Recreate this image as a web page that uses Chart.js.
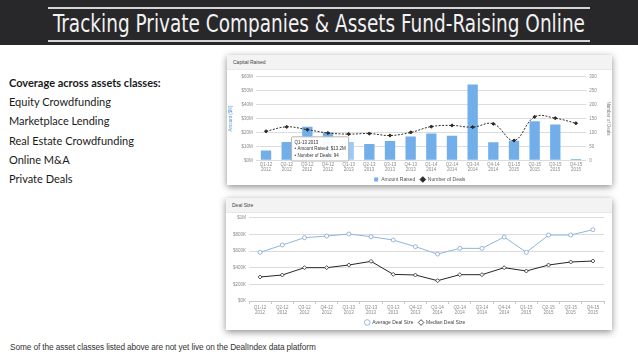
<!DOCTYPE html>
<html><head><meta charset="utf-8">
<script src="https://cdn.jsdelivr.net/npm/chart.js@4.4.0/dist/chart.umd.min.js"></script>
<style>
html,body{margin:0;padding:0;}
body{width:638px;height:359px;position:relative;overflow:hidden;background:#fff;font-family:Lato,"Noto Sans",sans-serif;}
#hdr{position:absolute;left:0;top:0;width:638px;height:45px;background:#28282a;}
.rule{position:absolute;left:48px;width:542px;height:2px;background:#d6d6d6;}
#title{position:absolute;left:53px;top:7px;white-space:nowrap;color:#f2f2f2;font-family:"DejaVu Sans Condensed","Liberation Sans Narrow",sans-serif;font-size:25px;line-height:34px;transform-origin:0 0;}
#list{position:absolute;left:9px;top:73px;color:#1a1a1a;font-size:11px;}
#list div{height:19.2px;line-height:19.2px;white-space:nowrap;}
#list .b{font-weight:bold;}
#foot{position:absolute;left:10px;top:343px;font-family:"Liberation Sans",Arial,sans-serif;font-size:7.4px;color:#333;white-space:nowrap;letter-spacing:-0.1px;}
.card{position:absolute;background:#fff;box-shadow:0 2px 7px rgba(0,0,0,0.45);}
.card .h{position:absolute;left:0;top:0;right:0;height:14px;background:#f3f3f3;border-bottom:1px solid #e8e8e8;font-size:5px;line-height:14px;padding-left:6px;color:#444;font-family:"Liberation Sans",sans-serif;}
.card canvas{position:absolute;left:0;}
</style></head>
<body>
<div id="hdr"><div class="rule" style="top:7px"></div><div class="rule" style="top:40px"></div><span id="title">Tracking Private Companies &amp; Assets Fund-Raising Online</span></div>
<div id="list">
<div class="b">Coverage across assets classes:</div>
<div>Equity Crowdfunding</div>
<div>Marketplace Lending</div>
<div>Real Estate Crowdfunding</div>
<div>Online M&amp;A</div>
<div>Private Deals</div>
</div>
<div id="foot">Some of the asset classes listed above are not yet live on the DealIndex data platform</div>

<div class="card" style="left:227px;top:55px;width:385px;height:130px;">
  <div class="h">Capital Raised</div>
  <canvas id="c1" width="385" height="116" style="top:14px;width:385px;height:116px"></canvas>
</div>
<div class="card" style="left:226px;top:198px;width:386px;height:132px;">
  <div class="h">Deal Size</div>
  <canvas id="c2" width="386" height="118" style="top:14px;width:386px;height:118px"></canvas>
</div>

<script>
// ---- data ----
const periodCodes = ['Q1-12','Q2-12','Q3-12','Q4-12','Q1-13','Q2-13','Q3-13','Q4-13','Q1-14','Q2-14','Q3-14','Q4-14','Q1-15','Q2-15','Q3-15','Q4-15'];
const periodYears = ['2012','2012','2012','2012','2013','2013','2013','2013','2014','2014','2014','2014','2015','2015','2015','2015'];
const amountRaised = [7, 13.2, 24, 20, 13.2, 11.7, 13.9, 17, 19.2, 17.7, 54.4, 12.9, 14.1, 28, 25.7, 1];   // $M
const numberOfDeals = [104, 120, 110, 98, 94, 96, 89, 100, 121, 125, 119, 131, 71, 156, 151, 133];
const averageDealSize = [584, 672, 760, 780, 804, 772, 732, 652, 564, 632, 632, 768, 584, 792, 792, 856]; // $K
const medianDealSize = [288, 312, 400, 400, 432, 476, 320, 312, 244, 316, 316, 400, 360, 432, 468, 480];  // $K
const amountTicks = [0, 10, 20, 30, 40, 50, 60];
const dealTicks = [0, 50, 100, 150, 200, 250, 300];
const sizeTicks = [0, 200, 400, 600, 800, 1000];
const tooltipIndex = 4;

// fit title and footnote widths
const t = document.getElementById('title');
t.style.transform = 'scaleX(' + (532 / t.getBoundingClientRect().width) + ')';
const f = document.getElementById('foot');
f.style.fontSize = (7.4 * 305 / f.getBoundingClientRect().width) + 'px';

const labels = periodCodes.map((c, i) => [c, periodYears[i]]);
const tickFont = {size: 4.5, family: 'Liberation Sans', lineHeight: 1.15};
const tickColor = '#8a8a8a';

// fixes the legend box height so the plot area lands where the reference has it
const legendHeight = {
  id: 'legendHeight',
  beforeUpdate(chart, args, opts) {
    const lg = chart.legend;
    if (lg && !lg._hWrapped) {
      const fit = lg.fit.bind(lg);
      lg.fit = function () { fit(); this.height = opts.h; this.bottom = this.top + opts.h; };
      lg._hWrapped = true;
    }
  }
};

// tooltip anchored just below the top of the hovered bar
Chart.Tooltip.positioners.barTop = function (elements) {
  const bar = elements.find(e => e.element instanceof Chart.BarElement) || elements[0];
  if (!bar) return false;
  return {x: bar.element.x, y: bar.element.y + 7};
};

const c1 = new Chart(document.getElementById('c1'), {
  data: {
    labels: labels,
    datasets: [
      {type: 'line', label: 'Number of Deals', data: numberOfDeals, yAxisID: 'y1', borderColor: '#2b2b2b', borderWidth: 1,
       borderDash: [2, 1.5], tension: 0.4, pointStyle: 'rectRot', pointRadius: 1.6, pointHoverRadius: 1.6,
       pointHoverBorderWidth: 1, pointBackgroundColor: '#2b2b2b', pointBorderColor: '#2b2b2b', order: 1},
      {type: 'bar', label: 'Amount Raised', data: amountRaised, yAxisID: 'y', backgroundColor: '#72aeea',
       hoverBackgroundColor: '#9ccaf4', barPercentage: 0.5, categoryPercentage: 1, pointStyle: 'rect', order: 2}
    ]
  },
  plugins: [legendHeight],
  options: {
    responsive: false, animation: false, events: [],
    layout: {padding: {top: 7.7, left: 0, right: 0, bottom: 0}},
    plugins: {
      legendHeight: {h: 13},
      legend: {position: 'bottom', reverse: true,
        labels: {font: {size: 5, family: 'Liberation Sans'}, color: '#555', usePointStyle: true, boxWidth: 5, boxHeight: 4, padding: 5}},
      tooltip: {
        mode: 'index', intersect: false, position: 'barTop', xAlign: 'right', yAlign: 'center', caretSize: 0, caretPadding: 0,
        backgroundColor: 'rgba(255,255,255,0.96)', borderColor: '#b5b5b5', borderWidth: 1, cornerRadius: 1,
        titleColor: '#333', bodyColor: '#333', titleFont: {size: 4.5, weight: 'normal', family: 'Liberation Sans'},
        bodyFont: {size: 4.5, family: 'Liberation Sans'}, padding: 3, displayColors: false, titleMarginBottom: 1, bodySpacing: 1,
        itemSort: (a, b) => b.datasetIndex - a.datasetIndex,
        callbacks: {
          title: items => items[0].label.replace(',', ' '),
          label: item => item.dataset.yAxisID === 'y' ? '• Amount Raised: $' + item.raw.toFixed(1) + 'M' : '• Number of Deals: ' + item.raw
        }
      }
    },
    scales: {
      x: {grid: {display: false, drawTicks: false}, border: {display: false},
          ticks: {font: tickFont, color: tickColor, maxRotation: 0, autoSkip: false, padding: 2},
          afterFit: s => { s.height = 11.7; }},
      y: {position: 'left', min: 0, max: 60, afterBuildTicks: s => { s.ticks = amountTicks.map(v => ({value: v})); },
          grid: {color: '#dcdcdc', drawTicks: false}, border: {display: false},
          ticks: {font: tickFont, color: tickColor, padding: 3, callback: v => '$' + v + 'M'},
          title: {display: true, text: 'Amount ($M)', color: '#5b9bd5', font: {size: 4.5, family: 'Liberation Sans'}, padding: 1},
          afterFit: s => { s.width = 28.7; }},
      y1: {position: 'right', min: 0, max: 300, afterBuildTicks: s => { s.ticks = dealTicks.map(v => ({value: v})); },
          grid: {drawOnChartArea: false, drawTicks: false}, border: {display: false},
          ticks: {font: tickFont, color: tickColor, padding: 3},
          title: {display: true, text: 'Number of Deals', color: '#777', font: {size: 4.5, family: 'Liberation Sans'}, padding: 1},
          afterFit: s => { s.width = 25.7; }}
    }
  }
});
const act = [{datasetIndex: 1, index: tooltipIndex}, {datasetIndex: 0, index: tooltipIndex}];
c1.setActiveElements(act);
const barEl = c1.getDatasetMeta(1).data[tooltipIndex];
c1.tooltip.setActiveElements(act, {x: barEl.x, y: barEl.y});
c1.update();

new Chart(document.getElementById('c2'), {
  type: 'line',
  data: {
    labels: labels,
    datasets: [
      {label: 'Average Deal Size', data: averageDealSize, borderColor: '#8fb5dc', borderWidth: 1, pointStyle: 'circle',
       pointRadius: 2, pointBackgroundColor: '#fff', pointBorderColor: '#7fa8d4', pointBorderWidth: 0.8, tension: 0},
      {label: 'Median Deal Size', data: medianDealSize, borderColor: '#262626', borderWidth: 1, pointStyle: 'rectRot',
       pointRadius: 2, pointBackgroundColor: '#fff', pointBorderColor: '#262626', pointBorderWidth: 0.8, tension: 0}
    ]
  },
  plugins: [legendHeight],
  options: {
    responsive: false, animation: false, events: [],
    layout: {padding: {top: 5.7, left: 0, right: 8, bottom: 0}},
    plugins: {
      legendHeight: {h: 15},
      legend: {position: 'bottom',
        labels: {font: {size: 5, family: 'Liberation Sans'}, color: '#444', usePointStyle: true, boxWidth: 5, boxHeight: 4, padding: 5}},
      tooltip: {enabled: false}
    },
    scales: {
      x: {offset: true, grid: {offset: true, drawOnChartArea: false, tickLength: 3, color: '#c8c8c8'}, border: {color: '#c8c8c8'},
          ticks: {font: tickFont, color: tickColor, maxRotation: 0, autoSkip: false, padding: 1},
          afterFit: s => { s.height = 14; }},
      y: {min: 0, max: 1000, afterBuildTicks: s => { s.ticks = sizeTicks.map(v => ({value: v})); },
          grid: {color: '#dcdcdc', drawTicks: false}, border: {display: false},
          ticks: {font: tickFont, color: tickColor, padding: 3, callback: v => v === 1000 ? '$1M' : '$' + v + 'K'},
          afterFit: s => { s.width = 23; }}
    }
  }
});
</script>
</body></html>
